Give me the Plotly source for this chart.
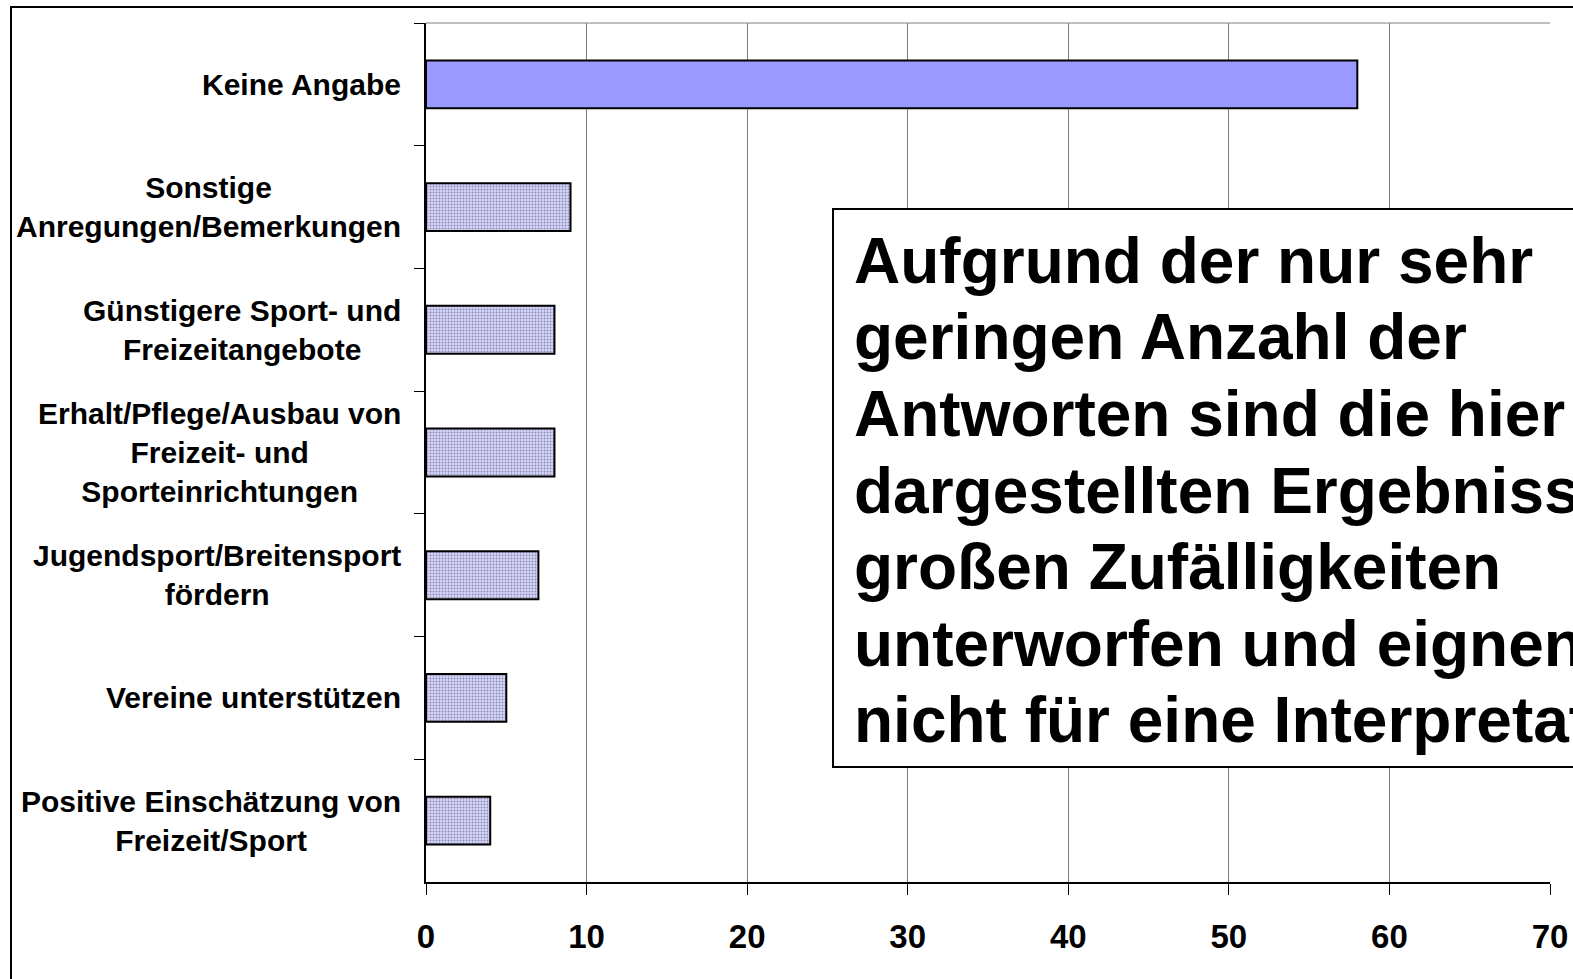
import plotly.graph_objects as go

# --- data -------------------------------------------------------------
categories = [
    "Keine Angabe",
    "Sonstige Anregungen/Bemerkungen",
    "Günstigere Sport- und Freizeitangebote",
    "Erhalt/Pflege/Ausbau von Freizeit- und Sporteinrichtungen",
    "Jugendsport/Breitensport fördern",
    "Vereine unterstützen",
    "Positive Einschätzung von Freizeit/Sport",
]
category_labels = [
    "Keine Angabe",
    "Sonstige<br>Anregungen/Bemerkungen",
    "Günstigere Sport- und<br>Freizeitangebote",
    "Erhalt/Pflege/Ausbau von<br>Freizeit- und<br>Sporteinrichtungen",
    "Jugendsport/Breitensport<br>fördern",
    "Vereine unterstützen",
    "Positive Einschätzung von<br>Freizeit/Sport",
]
values = [58, 9, 8, 8, 7, 5, 4]
x_ticks = [0, 10, 20, 30, 40, 50, 60, 70]
note_lines = [
    "Aufgrund der nur sehr",
    "geringen Anzahl der",
    "Antworten sind die hier",
    "dargestellten Ergebnisse",
    "großen Zufälligkeiten",
    "unterworfen und eignen sich",
    "nicht für eine Interpretation.",
]

# --- layout geometry (pixels) -----------------------------------------
W, H = 1573, 979
L, R, T, B = 426, 1550, 23, 882
PW, PH = R - L, B - T


def px_x(px):
    return (px - L) / PW


def px_y(py):
    return (B - py) / PH


FONT = "Liberation Sans, Arial, sans-serif"

bar_colors = ["#9999FF"] + ["#D4D4FF"] * (len(values) - 1)
bar_patterns = [""] + ["."] * (len(values) - 1)

fig = go.Figure(
    go.Bar(
        y=categories,
        x=values,
        orientation="h",
        marker=dict(
            color=bar_colors,
            line=dict(color="black", width=2),
            pattern=dict(
                shape=bar_patterns,
                fillmode="overlay",
                fgcolor="#BCBCFF",
                bgcolor=bar_colors,
                size=3,
                solidity=0.3,
            ),
        ),
        showlegend=False,
    )
)

fig.update_layout(
    width=W,
    height=H,
    autosize=False,
    margin=dict(l=L, r=W - R, t=T, b=H - B, pad=0, autoexpand=False),
    paper_bgcolor="white",
    plot_bgcolor="white",
    bargap=0.61,
    font=dict(family=FONT, color="black"),
)

fig.update_xaxes(
    range=[0, 70],
    automargin=False,
    tickmode="array",
    tickvals=x_ticks,
    ticktext=[str(v) for v in x_ticks],
    showgrid=True,
    gridcolor="#7F7F7F",
    gridwidth=1,
    zeroline=False,
    showline=True,
    linecolor="black",
    linewidth=2,
    ticks="outside",
    ticklen=11,
    tickwidth=1,
    tickcolor="black",
    ticklabelstandoff=13,
    tickfont=dict(family=FONT, size=33, weight="bold", color="black"),
)

fig.update_yaxes(
    autorange="reversed",
    automargin=False,
    showgrid=False,
    showline=True,
    linecolor="black",
    linewidth=2,
    ticks="outside",
    tickson="boundaries",
    ticklen=10,
    tickwidth=1,
    tickcolor="black",
    showticklabels=False,
)

shapes = [
    # outer frame
    dict(type="rect", xref="paper", yref="paper",
         x0=px_x(11), x1=px_x(W + 20), y0=px_y(H + 20), y1=px_y(7),
         line=dict(color="black", width=2), fillcolor="rgba(0,0,0,0)",
         layer="below"),
    # top edge of the plot area
    dict(type="line", xref="paper", yref="paper",
         x0=0, x1=1, y0=1, y1=1,
         line=dict(color="#7F7F7F", width=1)),
    # note box
    dict(type="rect", xref="paper", yref="paper",
         x0=px_x(833), x1=px_x(W + 40), y0=px_y(767), y1=px_y(209),
         line=dict(color="black", width=2), fillcolor="white",
         layer="above"),
]

annotations = []
for cat, lab in zip(categories, category_labels):
    annotations.append(dict(
        xref="paper", yref="y", x=px_x(403), y=cat,
        xanchor="right", yanchor="middle", align="center",
        text=lab, showarrow=False,
        font=dict(family=FONT, size=30, weight="bold", color="black"),
    ))

NOTE_SIZE = 64
first_baseline, line_step = 282, 76.6
for i, line in enumerate(note_lines):
    baseline = first_baseline + i * line_step
    annotations.append(dict(
        xref="paper", yref="paper", x=px_x(852), y=px_y(baseline - 0.33 * NOTE_SIZE),
        xanchor="left", yanchor="middle", align="left",
        text=line, showarrow=False,
        font=dict(family=FONT, size=NOTE_SIZE, weight="bold", color="black"),
    ))

fig.update_layout(shapes=shapes, annotations=annotations)

fig.write_html("out.html")
